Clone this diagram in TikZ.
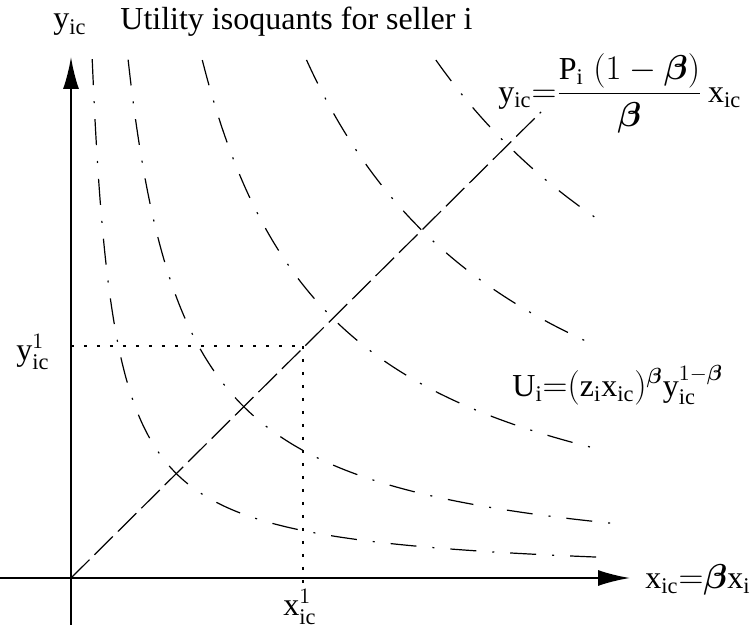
\documentclass[tikz,border=0pt]{standalone}
\usepackage{amsmath,amssymb,bm}
\usepackage{fontspec}
\setmainfont{Liberation Serif}
\usetikzlibrary{arrows.meta,positioning}

\begin{document}
\begin{tikzpicture}[x=5pt,y=5pt,font=\fontsize{16}{19}\selectfont,
   axis/.style={line width=1pt,-{Latex[length=16pt,width=8pt]}},
   isoquant/.style={line width=0.6pt,dash pattern=on 13pt off 8pt on 1pt off 8pt},
   ray/.style={line width=0.6pt,dash pattern=on 13pt off 3.5pt},
   guide/.style={line width=0.6pt,dash pattern=on 1.5pt off 5pt}]
  \useasboundingbox (-7.1,-4.9) rectangle (68.5,57.8);
  % axes
  \coordinate (O) at (0,0);
  \coordinate (xs) at (-7.1,0);
  \coordinate (xe) at (55.9,0);
  \coordinate (ys) at (0,-4.7);
  \coordinate (ye) at (0,52.1);
  \draw[axis] (xs) -- (xe);
  \draw[axis] (ys) -- (ye);
  % isoquants  x*y = const
  \foreach \c/\a/\b in {110/2.12/53,296/5.71/54.1,680/13.13/53,1220/23.55/52.7,1890/36.49/53}
    \draw[isoquant] plot[domain=\a:\b,samples=200,smooth] (\x,{\c/\x});
  % expansion ray and the chosen point
  \coordinate (re) at (47,46.6);
  \draw[ray] (O) -- (re);
  \coordinate (P1) at (23.2,23.2);
  \coordinate (P1x) at (23.2,-1.5);
  \coordinate (P1y) at (0,23.2);
  \draw[guide] (P1y) -- (P1);
  \draw[guide] (P1) -- (P1x);
  % labels
  \node (ylab) at (-0.1,55.3) {$\mathrm{y_{ic}}$};
  \node[anchor=west,inner sep=0pt] (title) at (4.9,55.6) {Utility isoquants for seller i};
  \node[anchor=west,inner sep=0pt] (raylab) at (42.7,48.5)
    {$\mathrm{y_{ic}}{=}\dfrac{\mathrm{P_i}\;(1-\bm{\beta})}{\bm{\beta}}\,\mathrm{x_{ic}}$};
  \node[anchor=west,inner sep=0pt] (ulab) at (44.1,19.3)
    {$\mathrm{U_i}{=}(\mathrm{z_i x_{ic}})^{\bm{\beta}}\mathrm{y}_{\mathrm{ic}}^{1-\bm{\beta}}$};
  \node (y1lab) at (-3.8,22.6) {$\mathrm{y}_{\mathrm{ic}}^{1}$};
  \node (x1lab) at (22.9,-2.9) {$\mathrm{x}_{\mathrm{ic}}^{1}$};
  \node[anchor=west,inner sep=0pt] (xlab) at (57.4,-0.2) {$\mathrm{x_{ic}}{=}\bm{\beta}\mathrm{x_i}$};
\end{tikzpicture}
\end{document}
